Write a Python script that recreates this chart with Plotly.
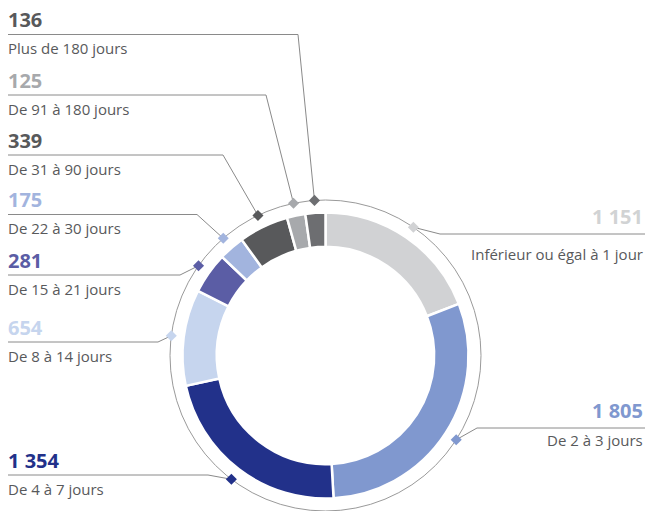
import numpy as np
import plotly.graph_objects as go

labels = ["Inférieur ou égal à 1 jour", "De 2 à 3 jours", "De 4 à 7 jours",
          "De 8 à 14 jours", "De 15 à 21 jours", "De 22 à 30 jours",
          "De 31 à 90 jours", "De 91 à 180 jours", "Plus de 180 jours"]
values = [1151, 1805, 1354, 654, 281, 175, 339, 125, 136]
value_text = ["1 151", "1 805", "1 354", "654", "281", "175", "339", "125", "136"]
slice_colors = ["#d1d2d4", "#8098cf", "#22318a", "#c6d5ee", "#5b5da5",
                "#a2b4de", "#58595b", "#a7a9ac", "#6d6e71"]
value_colors = ["#d1d3d4", "#8098cf", "#22318a", "#c6d5ee", "#5b5da5",
                "#a2b4de", "#58595b", "#a7a9ac", "#58595b"]

W, H = 645, 511
CX, CY = 325.5, 355.5
R_PIE = 143
R_RING = 155.5

# label layout: (side, line y, elbow x)
label_layout = [
    ("right", 234, 440),
    ("right", 428, 477),
    ("left", 475, 208),
    ("left", 342, 158),
    ("left", 275, 180),
    ("left", 214.5, 197),
    ("left", 155, 223),
    ("left", 95, 266),
    ("left", 34.5, 298),
]

fig = go.Figure()

fig.add_trace(go.Pie(
    values=values, labels=labels, sort=False, direction="clockwise", rotation=0,
    hole=0.76, textinfo="none", hoverinfo="label+value",
    marker=dict(colors=slice_colors, line=dict(color="white", width=2.5)),
    domain=dict(x=[(CX - R_PIE) / W, (CX + R_PIE) / W],
                y=[(H - CY - R_PIE) / H, (H - CY + R_PIE) / H]),
    showlegend=False,
))

total = sum(values)
cum = np.cumsum([0] + values[:-1])
mid_ang = (cum + np.array(values) / 2) / total * 2 * np.pi
mx = CX + R_RING * np.sin(mid_ang)
my = CY - R_RING * np.cos(mid_ang)

# outer thin ring
fig.add_shape(type="circle", xref="x", yref="y",
              x0=CX - R_RING, x1=CX + R_RING, y0=CY - R_RING, y1=CY + R_RING,
              line=dict(color="#9a9a9a", width=1), layer="below")

annotations = []
for i, (side, ly, ex) in enumerate(label_layout):
    xs = 8 if side == "left" else W
    fig.add_trace(go.Scatter(
        x=[xs, ex, mx[i]], y=[ly, ly, my[i]], mode="lines",
        line=dict(color="#8a8a8a", width=1), hoverinfo="skip", showlegend=False))
    if side == "left":
        annotations.append(dict(x=6, y=ly - 15, text="<b>%s</b>" % value_text[i],
                                xanchor="left", yanchor="middle",
                                font=dict(size=20, color=value_colors[i], family="Open Sans")))
        annotations.append(dict(x=6, y=ly + 13.5, text=labels[i],
                                xanchor="left", yanchor="middle",
                                font=dict(size=15, color="#58595b", family="Open Sans")))
    else:
        annotations.append(dict(x=645, y=ly - 17.5, text="<b>%s</b>" % value_text[i],
                                xanchor="right", yanchor="middle",
                                font=dict(size=20, color=value_colors[i], family="Open Sans")))
        annotations.append(dict(x=645, y=ly + (20 if i == 0 else 12), text=labels[i],
                                xanchor="right", yanchor="middle",
                                font=dict(size=15, color="#58595b", family="Open Sans")))

fig.add_trace(go.Scatter(
    x=mx, y=my, mode="markers",
    marker=dict(symbol="diamond", size=8.5, color=slice_colors, line=dict(width=0)),
    hoverinfo="skip", showlegend=False))

for a in annotations:
    a.update(xref="x", yref="y", showarrow=False)

fig.update_layout(
    width=W, height=H, margin=dict(l=0, r=0, t=0, b=0),
    paper_bgcolor="white", plot_bgcolor="white",
    xaxis=dict(range=[0, W], visible=False, fixedrange=True),
    yaxis=dict(range=[H, 0], visible=False, fixedrange=True),
    annotations=annotations,
)

fig.write_html("out.html", config={"displayModeBar": False},
               post_script="document.body.style.margin='0';document.body.style.overflow='hidden';")
